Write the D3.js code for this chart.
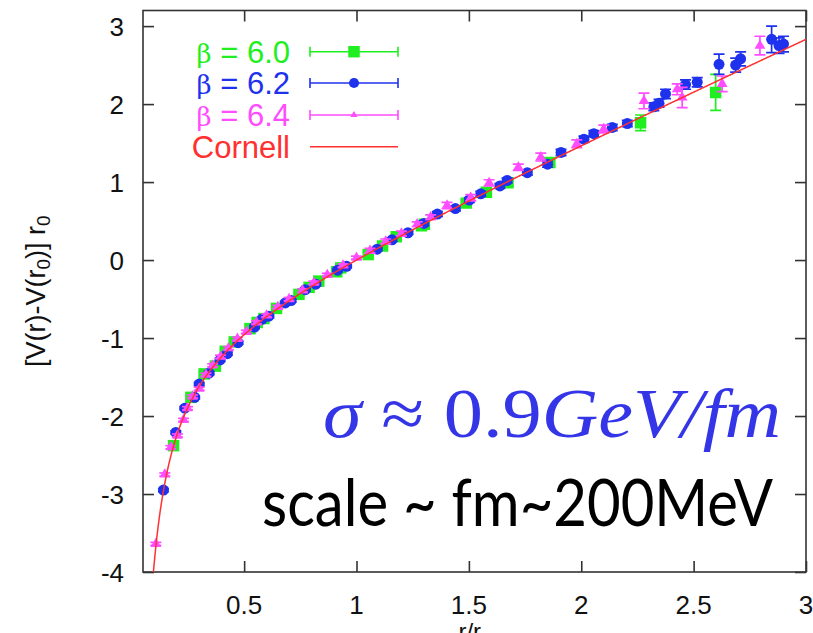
<!DOCTYPE html>
<html>
<head>
<meta charset="utf-8">
<script src="https://cdn.jsdelivr.net/npm/d3@7"></script>
<style>
  html, body { margin: 0; padding: 0; background: #fff; }
  svg { display: block; }
</style>
</head>
<body>
<svg id="chart" width="813" height="633"></svg>
<script>
// Static quark potential: lattice data at three couplings plus Cornell fit

// beta = 6.0
const beta60_r   = [0.186, 0.263, 0.322, 0.372, 0.416, 0.456, 0.526, 0.558, 0.588, 0.644, 0.744, 0.789, 0.832, 0.912, 0.930, 1.052, 1.116, 1.177, 1.289, 1.302, 1.488, 1.578, 1.674, 1.860, 2.264, 2.598];
const beta60_v   = [-2.38, -1.76, -1.46, -1.36, -1.17, -1.05, -0.88, -0.80, -0.75, -0.62, -0.44, -0.35, -0.27, -0.15, -0.10, 0.07, 0.18, 0.30, 0.44, 0.46, 0.73, 0.87, 0.99, 1.25, 1.76, 2.15];
const beta60_err = [0.02, 0.02, 0.02, 0.02, 0.02, 0.02, 0.02, 0.02, 0.02, 0.02, 0.02, 0.02, 0.02, 0.02, 0.02, 0.03, 0.03, 0.03, 0.03, 0.03, 0.04, 0.04, 0.04, 0.05, 0.10, 0.23];

// beta = 6.2
const beta62_r   = [0.141, 0.196, 0.236, 0.280, 0.300, 0.344, 0.393, 0.425, 0.473, 0.546, 0.579, 0.610, 0.683, 0.709, 0.772, 0.819, 0.916, 0.956, 1.092, 1.158, 1.229, 1.300, 1.360, 1.440, 1.502, 1.553, 1.638, 1.670, 1.760, 1.850, 1.910, 2.012, 2.056, 2.138, 2.205, 2.323, 2.346, 2.375, 2.464, 2.516, 2.613, 2.687, 2.709, 2.847, 2.880, 2.900];
const beta62_v   = [-2.95, -2.21, -1.90, -1.76, -1.59, -1.45, -1.28, -1.20, -1.06, -0.86, -0.76, -0.72, -0.55, -0.52, -0.38, -0.31, -0.13, -0.08, 0.14, 0.26, 0.35, 0.47, 0.59, 0.66, 0.77, 0.85, 0.95, 1.02, 1.12, 1.23, 1.38, 1.55, 1.62, 1.70, 1.75, 1.965, 2.01, 2.13, 2.25, 2.28, 2.51, 2.50, 2.58, 2.83, 2.75, 2.77];
const beta62_err = [0.02, 0.02, 0.02, 0.02, 0.02, 0.02, 0.02, 0.02, 0.02, 0.02, 0.02, 0.02, 0.02, 0.02, 0.02, 0.02, 0.02, 0.02, 0.02, 0.02, 0.02, 0.03, 0.03, 0.03, 0.03, 0.03, 0.03, 0.03, 0.03, 0.04, 0.04, 0.04, 0.04, 0.04, 0.04, 0.05, 0.05, 0.06, 0.06, 0.06, 0.13, 0.09, 0.09, 0.17, 0.10, 0.10];

// beta = 6.4
const beta64_r   = [0.107, 0.147, 0.174, 0.203, 0.230, 0.248, 0.270, 0.300, 0.330, 0.360, 0.395, 0.430, 0.470, 0.510, 0.555, 0.600, 0.650, 0.700, 0.760, 0.810, 0.870, 0.940, 1.000, 1.060, 1.130, 1.200, 1.270, 1.330, 1.403, 1.508, 1.590, 1.720, 1.820, 1.980, 2.100, 2.279, 2.427, 2.449, 2.627, 2.795];
const beta64_v   = [-3.64, -2.75, -2.40, -2.25, -2.05, -1.90, -1.75, -1.65, -1.47, -1.35, -1.24, -1.13, -1.01, -0.92, -0.80, -0.71, -0.60, -0.50, -0.39, -0.29, -0.19, -0.07, 0.03, 0.12, 0.24, 0.34, 0.46, 0.55, 0.70, 0.80, 0.99, 1.19, 1.32, 1.49, 1.68, 2.04, 2.19, 2.085, 2.26, 2.75];
const beta64_err = [0.02, 0.02, 0.02, 0.02, 0.02, 0.02, 0.02, 0.02, 0.02, 0.02, 0.02, 0.02, 0.02, 0.02, 0.02, 0.02, 0.02, 0.02, 0.02, 0.02, 0.02, 0.02, 0.02, 0.03, 0.03, 0.03, 0.03, 0.03, 0.04, 0.04, 0.04, 0.04, 0.05, 0.05, 0.05, 0.10, 0.07, 0.13, 0.10, 0.12];

// Cornell fit  V r0 = -A/x + B x + (A - B),  normalised so that V(r0) = 0
const cornellA = 0.30;
const cornellB = 1.315;

const xTicks = [0.5, 1, 1.5, 2, 2.5, 3];
const xTickLabels = ["0.5", "1", "1.5", "2", "2.5", "3"];
const yTicks = [-4, -3, -2, -1, 0, 1, 2, 3];
const yTickLabels = ["-4", "-3", "-2", "-1", "0", "1", "2", "3"];

const legendLabels = ["6.0", "6.2", "6.4"];

const colGreen = "#1fef1f";
const colBlue = "#1e32ee";
const colMagenta = "#ff4cff";
const colRed = "#ff3030";

const svg = d3.select("#chart");
const pL = 143, pR = 806, pT = 10.5, pB = 572;

const x = d3.scaleLinear().domain([0.05, 3]).range([pL, pR]);
const y = d3.scaleLinear().domain([-4, 3.2]).range([pB, pT]);

const font = "'Liberation Sans', Arial, Helvetica, sans-serif";

svg.append("defs").append("clipPath").attr("id", "plotclip")
  .append("rect").attr("x", pL).attr("y", pT).attr("width", pR - pL).attr("height", pB - pT);

// Frame with inward ticks on all sides
const frameCol = "#333";
svg.append("rect").attr("x", pL).attr("y", pT).attr("width", pR - pL).attr("height", pB - pT)
  .attr("fill", "none").attr("stroke", frameCol).attr("stroke-width", 1.6);

const axBottom = d3.axisBottom(x).tickValues(xTicks).tickSizeInner(-11).tickSizeOuter(0).tickFormat("");
const axTop = d3.axisTop(x).tickValues(xTicks).tickSizeInner(-11).tickSizeOuter(0).tickFormat("");
const axLeft = d3.axisLeft(y).tickValues(yTicks).tickSizeInner(-11).tickSizeOuter(0).tickFormat("");
const axRight = d3.axisRight(y).tickValues(yTicks).tickSizeInner(-11).tickSizeOuter(0).tickFormat("");

function styleAxis(g) {
  g.select(".domain").remove();
  g.selectAll(".tick line").attr("stroke", frameCol).attr("stroke-width", 1.6);
}
svg.append("g").attr("transform", `translate(0,${pB})`).call(axBottom).call(styleAxis);
svg.append("g").attr("transform", `translate(0,${pT})`).call(axTop).call(styleAxis);
svg.append("g").attr("transform", `translate(${pL},0)`).call(axLeft).call(styleAxis);
svg.append("g").attr("transform", `translate(${pR},0)`).call(axRight).call(styleAxis);

// Tick labels
svg.append("g").selectAll("text").data(xTicks).join("text")
  .attr("x", d => x(d)).attr("y", 614)
  .attr("text-anchor", "middle").attr("font-family", font).attr("font-size", 26).attr("fill", "#111")
  .text((d, i) => xTickLabels[i]);
svg.append("g").selectAll("text").data(yTicks).join("text")
  .attr("x", 124).attr("y", d => y(d) + 9.5)
  .attr("text-anchor", "end").attr("font-family", font).attr("font-size", 26).attr("fill", "#111")
  .text((d, i) => yTickLabels[i]);

// Axis titles
const xt = svg.append("text").attr("x", (pL + pR) / 2).attr("y", 640)
  .attr("text-anchor", "middle").attr("font-family", font).attr("font-size", 24).attr("fill", "#111");
xt.append("tspan").text("r/r");
xt.append("tspan").attr("font-size", 17).attr("dy", 5).text("0");

const yt = svg.append("text")
  .attr("transform", `translate(45,${(pT + pB) / 2}) rotate(-90)`)
  .attr("text-anchor", "middle").attr("font-family", font).attr("font-size", 27).attr("fill", "#111");
yt.append("tspan").text("[V(r)-V(r");
yt.append("tspan").attr("font-size", 19).attr("dy", 5).text("0");
yt.append("tspan").attr("dy", -5).text(")] r");
yt.append("tspan").attr("font-size", 19).attr("dy", 5).text("0");

const plot = svg.append("g").attr("clip-path", "url(#plotclip)");

function series(r, v, e) { return r.map((d, i) => ({ r: d, v: v[i], e: e[i] })); }

function errorBars(g, data, col, cap) {
  const eb = g.append("g").attr("stroke", col).attr("stroke-width", 1.7);
  eb.selectAll("line.v").data(data).join("line").attr("class", "v")
    .attr("x1", d => x(d.r)).attr("x2", d => x(d.r))
    .attr("y1", d => y(d.v - d.e)).attr("y2", d => y(d.v + d.e));
  eb.selectAll("line.t").data(data).join("line").attr("class", "t")
    .attr("x1", d => x(d.r) - cap).attr("x2", d => x(d.r) + cap)
    .attr("y1", d => y(d.v + d.e)).attr("y2", d => y(d.v + d.e));
  eb.selectAll("line.b").data(data).join("line").attr("class", "b")
    .attr("x1", d => x(d.r) - cap).attr("x2", d => x(d.r) + cap)
    .attr("y1", d => y(d.v - d.e)).attr("y2", d => y(d.v - d.e));
}

const d60 = series(beta60_r, beta60_v, beta60_err);
const d62 = series(beta62_r, beta62_v, beta62_err);
const d64 = series(beta64_r, beta64_v, beta64_err);

const symSquare = d3.symbol().type(d3.symbolSquare).size(132);
const symCircle = d3.symbol().type(d3.symbolCircle).size(95);
const symTri = d3.symbol().type(d3.symbolTriangle).size(50);

// beta = 6.0
const g60 = plot.append("g");
errorBars(g60, d60, colGreen, 5.5);
g60.selectAll("path").data(d60).join("path")
  .attr("transform", d => `translate(${x(d.r)},${y(d.v)})`).attr("d", symSquare).attr("fill", colGreen);

// beta = 6.2
const g62 = plot.append("g");
errorBars(g62, d62, colBlue, 5.5);
g62.selectAll("path").data(d62).join("path")
  .attr("transform", d => `translate(${x(d.r)},${y(d.v)})`).attr("d", symCircle).attr("fill", colBlue);

// beta = 6.4
const g64 = plot.append("g");
errorBars(g64, d64, colMagenta, 5.5);
g64.selectAll("path").data(d64).join("path")
  .attr("transform", d => `translate(${x(d.r)},${y(d.v)})`).attr("d", symTri).attr("fill", colMagenta);

// Cornell curve
const cornell = r => -cornellA / r + cornellB * r + (cornellA - cornellB);
const curveX = d3.range(0.09, 3.0001, 0.002);
plot.append("path")
  .datum(curveX)
  .attr("fill", "none").attr("stroke", colRed).attr("stroke-width", 1.5)
  .attr("d", d3.line().x(d => x(d)).y(d => y(cornell(d))));

// Legend
const legRows = [51.7, 83, 115, 146.7];
const legCols = [colGreen, colBlue, colMagenta];
const legSyms = [symSquare, d3.symbol().type(d3.symbolCircle).size(80), d3.symbol().type(d3.symbolTriangle).size(22)];
const lx1 = 310, lx2 = 398, lxm = 354;
legendLabels.forEach((lab, i) => {
  const yy = legRows[i];
  const t = svg.append("text").attr("x", 290).attr("y", yy + 11)
    .attr("text-anchor", "end").attr("font-family", font).attr("font-size", 31).attr("fill", legCols[i]);
  t.append("tspan").attr("font-family", "'DejaVu Serif', serif").attr("font-size", 26).text("β");
  t.append("tspan").text(" = " + lab);
  const g = svg.append("g").attr("stroke", legCols[i]).attr("stroke-width", 1.6);
  g.append("line").attr("x1", lx1).attr("x2", lx2).attr("y1", yy).attr("y2", yy);
  g.append("line").attr("x1", lx1).attr("x2", lx1).attr("y1", yy - 5).attr("y2", yy + 5);
  g.append("line").attr("x1", lx2).attr("x2", lx2).attr("y1", yy - 5).attr("y2", yy + 5);
  svg.append("path").attr("transform", `translate(${lxm},${yy})`).attr("d", legSyms[i]).attr("fill", legCols[i]);
});
svg.append("text").attr("x", 290).attr("y", legRows[3] + 11)
  .attr("text-anchor", "end").attr("font-family", font).attr("font-size", 31).attr("fill", colRed)
  .text("Cornell");
svg.append("line").attr("x1", lx1).attr("x2", lx2).attr("y1", legRows[3]).attr("y2", legRows[3])
  .attr("stroke", colRed).attr("stroke-width", 1.5);

// String tension annotation
const sig = svg.append("text").attr("x", 323).attr("y", 437)
  .attr("font-family", "'Liberation Serif', 'DejaVu Serif', serif")
  .attr("font-size", 70).attr("fill", "#3535e8")
  .attr("textLength", 458).attr("lengthAdjust", "spacingAndGlyphs");
sig.append("tspan").attr("font-style", "italic").text("σ");
sig.append("tspan").text(" ≈ 0.9");
sig.append("tspan").attr("font-style", "italic").text("GeV/fm");

svg.append("text").attr("x", 262).attr("y", 526)
  .attr("font-family", "Lato, 'Open Sans', sans-serif")
  .attr("font-size", 66).attr("fill", "#000")
  .attr("textLength", 511).attr("lengthAdjust", "spacingAndGlyphs")
  .text("scale ~ fm~200MeV");
</script>
</body>
</html>
